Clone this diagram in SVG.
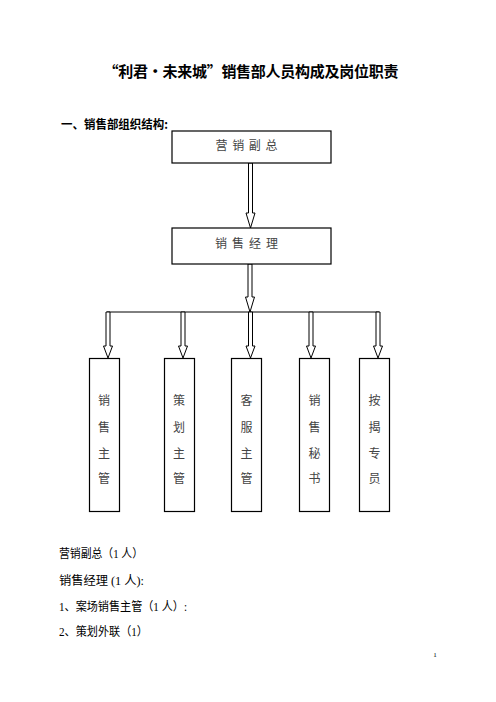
<svg xmlns="http://www.w3.org/2000/svg" width="496" height="702" viewBox="0 0 496 702">
<style>
.t{font-family:"Liberation Serif","Noto Sans CJK SC",serif;fill:#000}
.b{font-family:"Noto Sans CJK SC","Liberation Sans",sans-serif;font-weight:bold;fill:#000}
.n{font-family:"Liberation Serif","Noto Sans CJK SC",serif;font-size:12px;fill:#444}
.box{fill:#fff;stroke:#000;stroke-width:1.2}
.arr{fill:#fff;stroke:#000;stroke-width:1}
.ln{stroke:#000;stroke-width:1;fill:none}
</style>
<rect width="496" height="702" fill="#fff"/>
<text class="b" x="251" y="77" font-size="15" text-anchor="middle" textLength="295">“利君・未来城”销售部人员构成及岗位职责</text>
<text class="b" x="61" y="129" font-size="12" textLength="107" lengthAdjust="spacingAndGlyphs">一、销售部组织结构:</text>
<g id="connectors">
<polygon class="arr" points="248.5,163 252.5,163 252.5,213 255,213 250.5,228 246,213 248.5,213"/>
<polygon class="arr" points="248,264 252,264 252,297 254.5,297 250,312 245.5,297 248,297"/>
<line class="ln" x1="107" y1="312" x2="379" y2="312"/>
<polygon class="arr" points="106,312 110,312 110,346 112.5,346 108,358 103.5,346 106,346"/>
<polygon class="arr" points="181,312 185,312 185,346 187.5,346 183,358 178.5,346 181,346"/>
<polygon class="arr" points="248.5,312 252.5,312 252.5,346 255,346 250.5,358 246,346 248.5,346"/>
<polygon class="arr" points="309,312 313,312 313,346 315.5,346 311,358 306.5,346 309,346"/>
<polygon class="arr" points="376,312 380,312 380,346 382.5,346 378,358 373.5,346 376,346"/>
</g>
<g id="vp">
<rect class="box" x="172" y="131" width="159" height="32"/>
<text class="n" x="246.5" y="150" text-anchor="middle" textLength="62">营 销 副 总</text>
</g>
<g id="mgr">
<rect class="box" x="172" y="228" width="159" height="36"/>
<text class="n" x="246.5" y="248" text-anchor="middle" textLength="63">销 售 经 理</text>
</g>
<g id="s1">
<rect class="box" x="89.5" y="358.5" width="30" height="153"/>
<text class="n" x="104" y="405" text-anchor="middle">销</text>
<text class="n" x="104" y="432" text-anchor="middle">售</text>
<text class="n" x="104" y="458" text-anchor="middle">主</text>
<text class="n" x="104" y="483" text-anchor="middle">管</text>
</g>
<g id="s2">
<rect class="box" x="164.5" y="358.5" width="30" height="153"/>
<text class="n" x="179" y="405" text-anchor="middle">策</text>
<text class="n" x="179" y="432" text-anchor="middle">划</text>
<text class="n" x="179" y="458" text-anchor="middle">主</text>
<text class="n" x="179" y="483" text-anchor="middle">管</text>
</g>
<g id="s3">
<rect class="box" x="231.5" y="358.5" width="30" height="153"/>
<text class="n" x="246.5" y="405" text-anchor="middle">客</text>
<text class="n" x="246.5" y="432" text-anchor="middle">服</text>
<text class="n" x="246.5" y="458" text-anchor="middle">主</text>
<text class="n" x="246.5" y="483" text-anchor="middle">管</text>
</g>
<g id="s4">
<rect class="box" x="299.5" y="358.5" width="30" height="153"/>
<text class="n" x="314.5" y="405" text-anchor="middle">销</text>
<text class="n" x="314.5" y="432" text-anchor="middle">售</text>
<text class="n" x="314.5" y="458" text-anchor="middle">秘</text>
<text class="n" x="314.5" y="483" text-anchor="middle">书</text>
</g>
<g id="s5">
<rect class="box" x="359.5" y="358.5" width="30" height="153"/>
<text class="n" x="374.5" y="405" text-anchor="middle">按</text>
<text class="n" x="374.5" y="432" text-anchor="middle">揭</text>
<text class="n" x="374.5" y="458" text-anchor="middle">专</text>
<text class="n" x="374.5" y="483" text-anchor="middle">员</text>
</g>
<text class="t" x="59" y="557.5" font-size="12" textLength="84" lengthAdjust="spacingAndGlyphs">营销副总（1 人）</text>
<text class="t" x="59" y="585" font-size="12" textLength="85" lengthAdjust="spacingAndGlyphs">销售经理 (1 人):</text>
<text class="t" x="59" y="610.5" font-size="12" textLength="128" lengthAdjust="spacingAndGlyphs">1、案场销售主管（1 人）:</text>
<text class="t" x="59" y="635.5" font-size="12" textLength="89" lengthAdjust="spacingAndGlyphs">2、策划外联（1）</text>
<text class="t" x="435" y="657" font-size="7" text-anchor="middle">1</text>
</svg>
